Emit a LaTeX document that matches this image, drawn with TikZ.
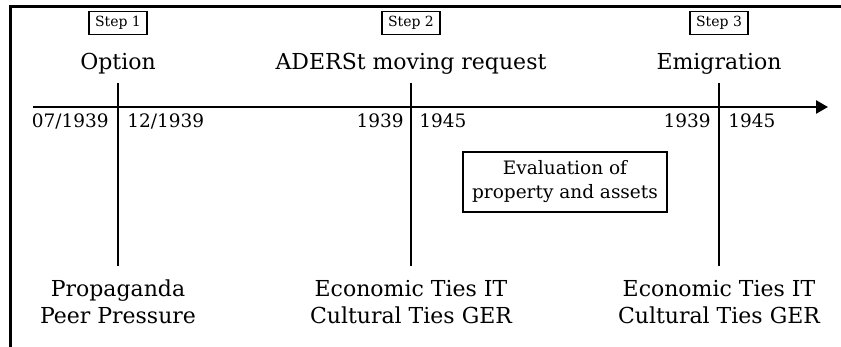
\documentclass[tikz,border=0pt]{standalone}
\usepackage{fontspec}
\setmainfont{DejaVu Serif}
\usetikzlibrary{arrows.meta,positioning}
\tikzset{
    step-box/.style = {draw, line width=1.2pt, rectangle, inner xsep=6pt, inner ysep=4.5pt, font=\fontsize{14}{16}\selectfont},
    step-title/.style = {anchor=base, inner sep=0pt, font=\fontsize{22}{24}\selectfont},
    date-label/.style = {inner sep=0pt, font=\fontsize{18.5}{22}\selectfont},
    ties-label/.style = {anchor=base, align=center, inner sep=0pt, font=\fontsize{22}{27}\selectfont},
    assets-box/.style = {draw, line width=2.6pt, align=center, minimum width=204pt, minimum height=60pt, font=\fontsize{18.5}{24}\selectfont},
}

\begin{document}
\begin{tikzpicture}[x=1pt, y=-1pt, line width=2.6pt]
\useasboundingbox (0,0) rectangle (841,347);
\draw[line width=3pt] (10,350) -- (10,7) -- (845,7);
% time axis
\coordinate (axis-start) at (33,107);
\coordinate (axis-end) at (828,107);
\draw[-{Triangle[length=12pt,width=13pt]}] (axis-start) -- (axis-end);
% the three steps
\foreach \name/\x/\num/\title in {option/118/1/Option, request/411/2/ADERSt moving request, emigration/719/3/Emigration} {
    \node[step-box] (step-\name) at (\x,23) {Step \num};
    \node[step-title] (title-\name) at (\x,70) {\title};
    \coordinate (top-\name) at (\x,83);
    \coordinate (bottom-\name) at (\x,266);
    \draw (top-\name) -- (bottom-\name);
}
% dates
\node[date-label, anchor=base east] (from-option) at (110,128) {07/1939};
\node[date-label, anchor=base west] (to-option) at (126,128) {12/1939};
\node[date-label, anchor=base east] (from-request) at (405,128) {1939};
\node[date-label, anchor=base west] (to-request) at (418,128) {1945};
\node[date-label, anchor=base east] (from-emigration) at (712,128) {1939};
\node[date-label, anchor=base west] (to-emigration) at (727,128) {1945};
% evaluation
\node[assets-box] (assets) at (565,182) {Evaluation of\\property and assets};
% ties
\node[ties-label] (ties-option) at (118,324) {Propaganda\\Peer Pressure};
\node[ties-label] (ties-request) at (411,324) {Economic Ties IT\\Cultural Ties GER};
\node[ties-label] (ties-emigration) at (719,324) {Economic Ties IT\\Cultural Ties GER};
\end{tikzpicture}
\end{document}
